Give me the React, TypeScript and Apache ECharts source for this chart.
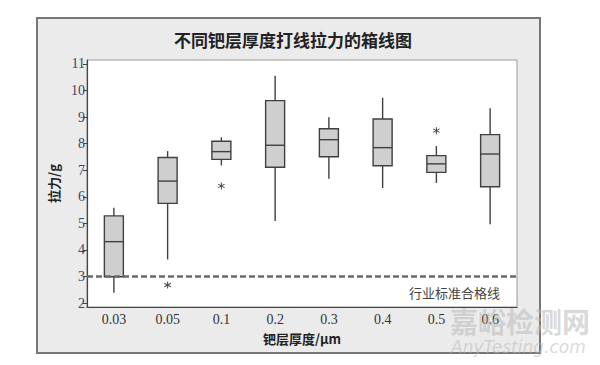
import React, { useEffect, useRef } from "react";
import * as echarts from "echarts";

const categories = ["0.03", "0.05", "0.1", "0.2", "0.3", "0.4", "0.5", "0.6"];
// [min, Q1, median, Q3, max]
const boxValues = [
  [2.39, 2.99, 4.31, 5.28, 5.59],
  [3.64, 5.75, 6.59, 7.48, 7.72],
  [7.18, 7.41, 7.7, 8.09, 8.24],
  [5.09, 7.11, 7.94, 9.62, 10.56],
  [6.68, 7.51, 8.15, 8.56, 8.99],
  [6.33, 7.17, 7.85, 8.93, 9.73],
  [6.52, 6.92, 7.24, 7.55, 7.91],
  [4.97, 6.38, 7.61, 8.34, 9.33],
];
const outliers = [
  [1, 2.68],
  [2, 6.41],
  [6, 8.49],
];
const yTicks = [2, 3, 4, 5, 6, 7, 8, 9, 10, 11];
const standardLine = 3;

const asterisk =
  "path://M-0.7,-5L0.7,-5L0.7,5L-0.7,5Z M3.98,-3.11L4.68,-1.89L-3.98,3.11L-4.68,1.89Z M4.68,1.89L3.98,3.11L-4.68,-1.89L-3.98,-3.11Z";

export default function App() {
  const ref = useRef<HTMLDivElement>(null);
  useEffect(() => {
    if (!ref.current) return;
    const chart = echarts.init(ref.current, null, { renderer: "svg" });
    const serif = "'Liberation Serif', 'DejaVu Serif', serif";
    const cjk = "'Noto Sans CJK SC', sans-serif";
    const boxData = boxValues.map((b, i) => [i, ...b]);
    const stroke = { stroke: "#404040", lineWidth: 1.4 };
    chart.setOption({
      animation: false,
      backgroundColor: "#ffffff",
      title: {
        text: "不同钯层厚度打线拉力的箱线图",
        left: 288,
        top: 26,
        textAlign: "center",
        textStyle: { fontFamily: cjk, fontWeight: "bold", fontSize: 17, color: "#222" },
      },
      graphic: [
        {
          type: "rect",
          z: -10,
          shape: { x: 37, y: 18, width: 503, height: 335 },
          style: { fill: "#ebebec", stroke: "#777", lineWidth: 2 },
        },
        {
          type: "text",
          z: 10,
          x: 500,
          y: 292,
          style: {
            text: "行业标准合格线",
            fill: "#444",
            font: "13px 'Noto Sans CJK SC', sans-serif",
            textAlign: "right",
            textVerticalAlign: "middle",
          },
        },
        {
          type: "text",
          z: 100,
          x: 450,
          y: 321,
          style: {
            text: "嘉峪检测网",
            fill: "rgba(185,185,185,0.55)",
            font: "bold 28px 'Noto Sans CJK SC', sans-serif",
            textAlign: "left",
            textVerticalAlign: "middle",
          },
        },
        {
          type: "text",
          z: 100,
          x: 451,
          y: 347,
          style: {
            text: "AnyTesting.com",
            fill: "rgba(185,185,185,0.55)",
            font: "italic 17px 'DejaVu Sans', sans-serif",
            textAlign: "left",
            textVerticalAlign: "middle",
          },
        },
      ],
      grid: {
        left: 87,
        top: 60,
        width: 430,
        height: 247,
        show: true,
        backgroundColor: "#ffffff",
        borderColor: "#999",
        borderWidth: 1,
      },
      xAxis: {
        type: "category",
        data: categories,
        boundaryGap: true,
        name: "钯层厚度/μm",
        nameLocation: "middle",
        nameGap: 25,
        nameTextStyle: { fontFamily: cjk, fontWeight: "bold", fontSize: 13, color: "#222" },
        axisLine: { lineStyle: { color: "#444", width: 1.2 } },
        axisTick: { alignWithLabel: true, length: 4, lineStyle: { color: "#444" } },
        axisLabel: { fontFamily: serif, fontSize: 14, color: "#333", margin: 5 },
        splitLine: { show: false },
      },
      yAxis: {
        type: "value",
        min: 1.85,
        max: 11.15,
        name: "拉力/g",
        nameLocation: "middle",
        nameRotate: 90,
        nameGap: 24,
        nameTextStyle: { fontFamily: cjk, fontWeight: "bold", fontSize: 13, color: "#222" },
        axisLine: { show: true, lineStyle: { color: "#444", width: 1.2 } },
        axisTick: { show: true, length: 4, customValues: yTicks, lineStyle: { color: "#444" } },
        axisLabel: { fontFamily: serif, fontSize: 14, color: "#3a4560", margin: 2, customValues: yTicks },
        splitLine: { show: false },
      },
      series: [
        {
          type: "custom",
          data: boxData,
          encode: { x: 0, y: [1, 2, 3, 4, 5] },
          renderItem: (params: any, api: any) => {
            const i = api.value(0);
            const pMin = api.coord([i, api.value(1)]);
            const pQ1 = api.coord([i, api.value(2)]);
            const pMed = api.coord([i, api.value(3)]);
            const pQ3 = api.coord([i, api.value(4)]);
            const pMax = api.coord([i, api.value(5)]);
            const cx = pMed[0];
            const hw = 9.5;
            return {
              type: "group",
              children: [
                { type: "line", shape: { x1: cx, y1: pMax[1], x2: cx, y2: pQ3[1] }, style: stroke },
                { type: "line", shape: { x1: cx, y1: pQ1[1], x2: cx, y2: pMin[1] }, style: stroke },
                {
                  type: "rect",
                  shape: { x: cx - hw, y: pQ3[1], width: hw * 2, height: pQ1[1] - pQ3[1] },
                  style: { fill: "#cfcfcf", ...stroke },
                },
                { type: "line", shape: { x1: cx - hw, y1: pMed[1], x2: cx + hw, y2: pMed[1] }, style: stroke },
              ],
            };
          },
          markLine: {
            silent: true,
            symbol: ["none", "none"],
            label: { show: false },
            lineStyle: { color: "#6a6a6a", width: 2.6, type: [6, 3] },
            data: [{ yAxis: standardLine }],
          },
        },
        {
          type: "scatter",
          data: outliers,
          symbol: asterisk,
          symbolSize: 7,
          itemStyle: { color: "#222" },
        },
      ],
    });
    return () => chart.dispose();
  }, []);
  return (
    <div
      ref={ref}
      style={{ position: "absolute", left: 0, top: 0, width: 600, height: 365 }}
    />
  );
}
